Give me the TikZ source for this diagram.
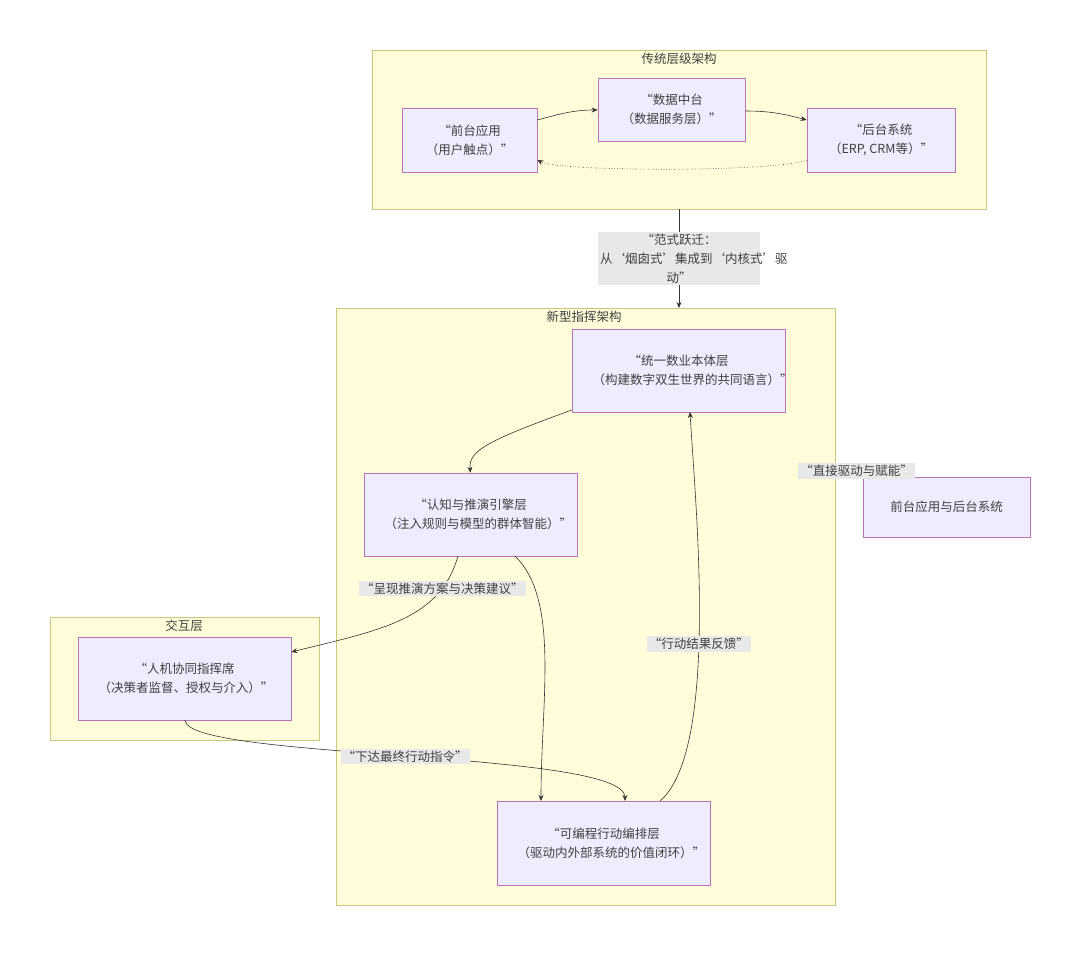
\documentclass[tikz,border=0pt]{standalone}
\usepackage{fontspec}
\setmainfont{Noto Sans CJK SC}
\usetikzlibrary{positioning,arrows.meta}

\begin{document}
\begin{tikzpicture}
[x=1pt, y=-1pt, >={Stealth[length=6pt,width=5pt]},
 font=\fontsize{12.5}{19}\selectfont, text=black!75,
 gruppe/.style={draw=yellow!60!black!60, fill=yellow!15, line width=0.6pt},
 knoten/.style={shape=rectangle, draw=violet!55, fill=blue!7, line width=0.6pt, align=center, inner sep=0pt},
 etikett/.style={fill=black!9, align=center, inner sep=2pt},
 kante/.style={draw=black!80, line width=0.6pt}]
\useasboundingbox (0,0) rectangle (1080,955);
% Gruppen
\draw[gruppe] (372,50) rectangle (986,209);
\node at (679,59) {传统层级架构};
\draw[gruppe] (336,308) rectangle (835,905);
\node at (584,317) {新型指挥架构};
\draw[gruppe] (50,617) rectangle (319,740);
\node at (184,626) {交互层};
% Knoten
\node[knoten, minimum width=135pt, minimum height=64pt] (fa) at (469.5,140) {“前台应用\\（用户触点）”};
\node[knoten, minimum width=147pt, minimum height=63pt] (dm) at (671.5,109.5) {“数据中台\\（数据服务层）”};
\node[knoten, minimum width=148pt, minimum height=64pt] (bs) at (881,140) {“后台系统\\（ERP, CRM等）”};
\node[knoten, minimum width=213pt, minimum height=83pt, text width=172pt] (ont) at (678.5,370.5) {“统一数业本体层\\（构建数字双生世界的共同语言）”};
\node[knoten, minimum width=213pt, minimum height=83pt, text width=172pt] (cog) at (470.5,514.5) {“认知与推演引擎层\\（注入规则与模型的群体智能）”};
\node[knoten, minimum width=213pt, minimum height=83pt, text width=172pt] (hm) at (184.5,678.5) {“人机协同指挥席\\（决策者监督、授权与介入）”};
\node[knoten, minimum width=213pt, minimum height=84pt, text width=172pt] (prog) at (603.5,843) {“可编程行动编排层\\（驱动内外部系统的价值闭环）”};
\node[knoten, minimum width=167pt, minimum height=60pt] (ext) at (946.5,507) {前台应用与后台系统};
% Hilfspunkte
\coordinate (alt) at (679,209);
\coordinate (neu) at (679,308);
\coordinate (rand) at (835,465);
% Kanten
\draw[kante,->] (fa.east |- 0,120) to[out=15,in=180] (dm.west |- 0,110);
\draw[kante,->] (dm.east |- 0,111) to[out=0,in=165] (bs.west |- 0,120);
\draw[kante,->,dotted] (bs.west |- 0,160) .. controls (780,172) and (560,172) .. (fa.east |- 0,160);
\draw[kante,->] (alt) -- node[etikett, text width=158pt] {“范式跃迁：\\从‘烟囱式’集成到‘内核式’驱\\动”} (neu);
\draw[kante,->] (rand) .. controls (860,472) .. (ext.north -| 890,0)
  node[etikett, pos=0.4] {“直接驱动与赋能”};
\draw[kante,->] (ont.south west |- 0,410) .. controls (490,440) and (468,450) .. (cog.north);
\draw[kante,->] (458,556) .. controls (440,620) and (380,630) .. node[etikett, pos=0.2] {“呈现推演方案与决策建议”} (hm.east |- 0,652);
\draw[kante,->] (515,556) .. controls (560,600) and (541,700) .. (541,801);
\draw[kante,->] (185,720) .. controls (185,760) and (625,750) .. node[etikett, pos=0.5] {“下达最终行动指令”} (625,801);
\draw[kante,->] (660,801) .. controls (720,750) and (695,500) .. node[etikett, pos=0.45] {“行动结果反馈”} (690,412);
\end{tikzpicture}
\end{document}
